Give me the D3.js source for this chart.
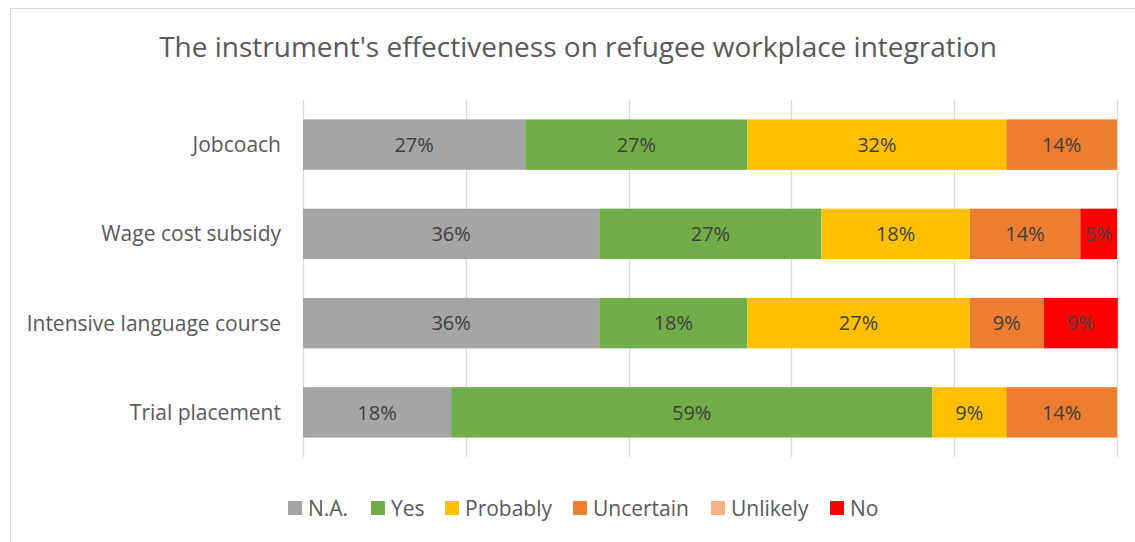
<!DOCTYPE html>
<html>
<head>
<meta charset="utf-8">
<script src="https://cdn.jsdelivr.net/npm/d3@7"></script>
<style>
  html, body { margin: 0; padding: 0; background: #fff; }
  svg { display: block; font-family: "Open Sans", "Noto Sans", sans-serif; }
</style>
</head>
<body>
<svg id="chart" width="1135" height="542"></svg>
<script>
// Survey answers per integration instrument (share of respondents, %)
const categories = ["Jobcoach", "Wage cost subsidy", "Intensive language course", "Trial placement"];
const seriesNames = ["N.A.", "Yes", "Probably", "Uncertain", "Unlikely", "No"];
const seriesColors = ["#A5A5A5", "#70AD47", "#FFC000", "#ED7D31", "#F4B183", "#FF0000"];
const naValues        = [27.3, 36.4, 36.4, 18.2];
const yesValues       = [27.3, 27.3, 18.2, 59.1];
const probablyValues  = [31.8, 18.2, 27.3, 9.1];
const uncertainValues = [13.6, 13.6, 9.1, 13.6];
const unlikelyValues  = [0, 0, 0, 0];
const noValues        = [0, 4.5, 9.1, 0];
const xTicks = [0, 20, 40, 60, 80, 100];
const title = "The instrument's effectiveness on refugee workplace integration";

const seriesValues = [naValues, yesValues, probablyValues, uncertainValues, unlikelyValues, noValues];
const rows = categories.map((c, i) => {
  const r = { category: c };
  seriesNames.forEach((s, j) => { r[s] = seriesValues[j][i]; });
  return r;
});

const svg = d3.select("#chart");

// chart frame
svg.append("rect")
  .attr("x", 10.5).attr("y", 8.5)
  .attr("width", 1140).attr("height", 560)
  .attr("fill", "#fff").attr("stroke", "#d9d9d9").attr("stroke-width", 1);

svg.append("text")
  .attr("x", 578).attr("y", 57)
  .attr("text-anchor", "middle")
  .attr("fill", "#595959")
  .style("font-size", "28px")
  .text(title);

const plot = { left: 303, right: 1117, top: 100, bottom: 457 };

const x = d3.scaleLinear().domain([0, 100]).range([plot.left, plot.right]);
const y = d3.scaleBand().domain(categories).range([plot.top, plot.bottom]).paddingInner(0.435).paddingOuter(0.2175);

// vertical gridlines
svg.append("g")
  .selectAll("line")
  .data(xTicks)
  .join("line")
  .attr("x1", d => Math.round(x(d)) + 0.5).attr("x2", d => Math.round(x(d)) + 0.5)
  .attr("y1", plot.top).attr("y2", plot.bottom)
  .attr("stroke", "#d9d9d9").attr("stroke-width", 1.3);

const stack = d3.stack().keys(seriesNames);
const stacked = stack(rows);
const color = d3.scaleOrdinal().domain(seriesNames).range(seriesColors);

const layers = svg.append("g").selectAll("g")
  .data(stacked)
  .join("g")
  .attr("fill", d => color(d.key));

layers.selectAll("rect")
  .data(d => d.filter(p => p[1] - p[0] > 0))
  .join("rect")
  .attr("x", d => x(d[0]))
  .attr("y", d => y(d.data.category))
  .attr("width", d => x(d[1]) - x(d[0]))
  .attr("height", y.bandwidth());

// value labels in the middle of each segment
const fmt = v => d3.format(".0f")(v) + "%";
layers.selectAll("text")
  .data(d => d.filter(p => p[1] - p[0] > 0))
  .join("text")
  .attr("x", d => (x(d[0]) + x(d[1])) / 2)
  .attr("y", d => y(d.data.category) + y.bandwidth() / 2)
  .attr("dy", "0.36em")
  .attr("text-anchor", "middle")
  .attr("fill", "#404040")
  .style("font-size", "20px")
  .text(d => fmt(d[1] - d[0]));

// category axis
const yAxis = svg.append("g")
  .attr("transform", `translate(${plot.left},0)`)
  .call(d3.axisLeft(y).tickSize(0).tickPadding(22));
yAxis.select(".domain").remove();
yAxis.selectAll("text")
  .attr("fill", "#595959")
  .attr("dy", "0.36em")
  .style("font-size", "21px")
  .style("font-family", "\"Open Sans\", \"Noto Sans\", sans-serif");

// legend
const legendX = [288, 371, 445, 573, 711, 830];
const legend = svg.append("g").selectAll("g")
  .data(seriesNames)
  .join("g")
  .attr("transform", (d, i) => `translate(${legendX[i]},501)`);
legend.append("rect")
  .attr("width", 14).attr("height", 14)
  .attr("fill", d => color(d));
legend.append("text")
  .attr("x", 20).attr("y", 7)
  .attr("dy", "0.36em")
  .attr("fill", "#595959")
  .style("font-size", "21px")
  .text(d => d);
</script>
</body>
</html>
